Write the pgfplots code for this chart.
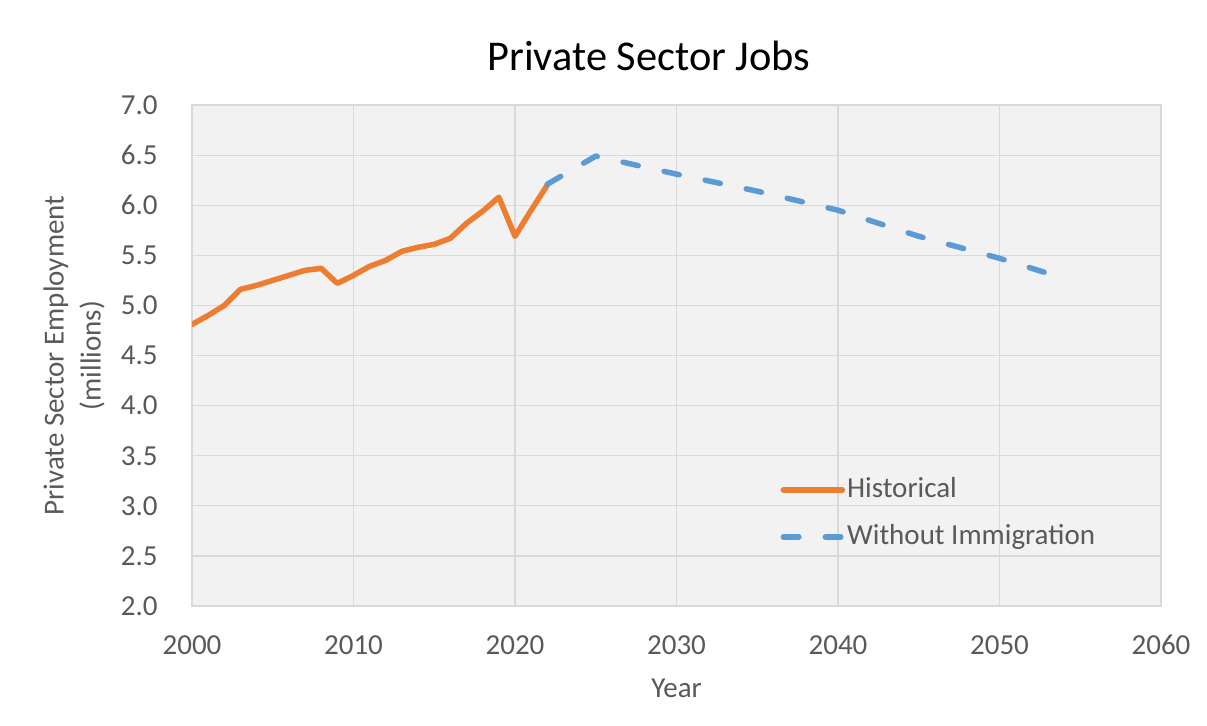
\documentclass[border=0pt]{standalone}
\usepackage{pgfplots}
\pgfplotsset{compat=1.18}
\usepackage{fontspec}
\setmainfont{Carlito}
\definecolor{histor}{HTML}{ED7D31}
\definecolor{noimm}{HTML}{5B9BD5}
\definecolor{txtgray}{HTML}{595959}
\definecolor{gridc}{HTML}{D9D9D9}
\definecolor{plotbg}{HTML}{F2F2F2}
\begin{document}
\begin{tikzpicture}
\path[use as bounding box] (-96pt,-59.5pt) rectangle (507.5pt,303pt);
\begin{axis}[
  at={(0,0)}, anchor=south west,
  scale only axis,
  width=484.5pt, height=250.5pt,
  xmin=2000, xmax=2060, ymin=2, ymax=7,
  xtick={2000,2010,...,2060},
  ytick={2,2.5,...,7},
  grid=major,
  major grid style={gridc, line width=0.6pt},
  axis line style={gridc, line width=0.8pt},
  axis background/.style={fill=plotbg},
  tick style={draw=none},
  /pgf/number format/assume math mode=true,
  xticklabel style={/pgf/number format/1000 sep=, font=\fontsize{14.5}{17}\selectfont, text=txtgray, inner sep=0pt, yshift=-14.5pt},
  yticklabel style={/pgf/number format/.cd, fixed, fixed zerofill, precision=1, /tikz/.cd, font=\fontsize{14.5}{17}\selectfont, text=txtgray, inner sep=0pt, xshift=-17pt},
  xlabel={Year},
  xlabel style={font=\fontsize{14.5}{17}\selectfont, text=txtgray, at={(axis description cs:0.5,0)}, anchor=north, inner sep=0pt, yshift=-36pt},
  ylabel={Private Sector Employment\\(millions)},
  ylabel style={font=\fontsize{14.5}{18.5}\selectfont, text=txtgray, align=center, at={(axis description cs:-0.0898,0.5)}, anchor=south, inner sep=0pt},
  title={Private Sector Jobs},
  title style={font=\fontsize{21.2}{25}\selectfont, text=black, at={(axis description cs:0.4716,1)}, anchor=south, inner sep=0pt, yshift=11pt},
  legend style={at={(axis description cs:0.607,0.1846)}, anchor=west, draw=none, fill=none, inner sep=0pt,
    font=\fontsize{14.5}{17}\selectfont, text=txtgray, row sep=10.5pt,
    nodes={inner xsep=1pt, inner ysep=0pt, text height=10pt, text depth=3pt}},
  legend cell align=left,
  legend image code/.code={\draw[#1] plot coordinates {(0pt,0pt) (29.5pt,0pt)};},
]
\addplot[histor, line width=2.75pt, line cap=round, line join=round] coordinates {
(2000,4.81) (2001,4.90) (2002,5.00) (2003,5.16) (2004,5.20) (2005,5.25)
(2006,5.30) (2007,5.35) (2008,5.37) (2009,5.22) (2010,5.30) (2011,5.39)
(2012,5.45) (2013,5.54) (2014,5.58) (2015,5.61) (2016,5.67) (2017,5.82)
(2018,5.94) (2019,6.08) (2020,5.69) (2021,5.95) (2022,6.20)
};
\addlegendentry{Historical}
\addplot[noimm, line width=2.75pt, line cap=round, line join=round, dash pattern=on 7.75pt off 13.25pt] coordinates {
(2022,6.21) (2025,6.49) (2030,6.31) (2035,6.14) (2040,5.95) (2045,5.69) (2050,5.47) (2054,5.27)
};
\addlegendentry{Without Immigration}
\end{axis}
\end{tikzpicture}
\end{document}
